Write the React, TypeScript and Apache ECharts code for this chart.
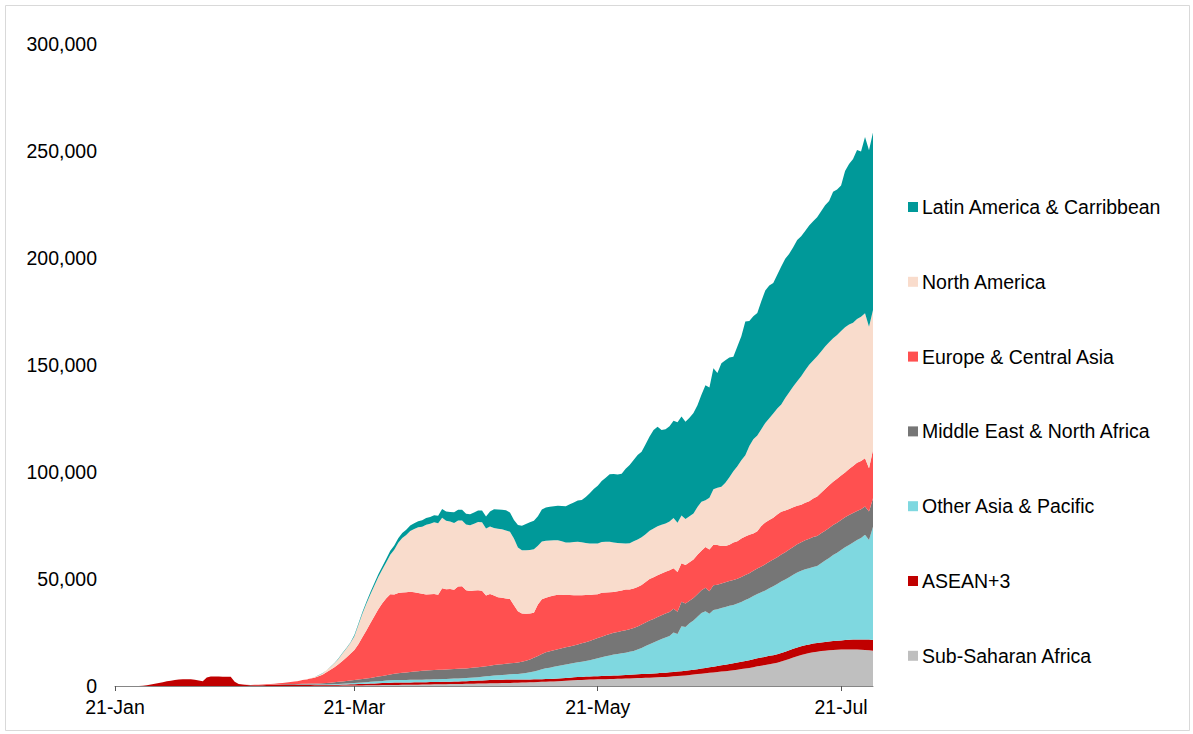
import { useEffect, useRef } from 'react';
import * as echarts from 'echarts';

const MONTHS = ['Jan', 'Feb', 'Mar', 'Apr', 'May', 'Jun', 'Jul', 'Aug', 'Sep', 'Oct', 'Nov', 'Dec'];
const START_DAY = Date.UTC(2020, 0, 21);
const DAY_COUNT = 191;
const dates: string[] = [];
for (let i = 0; i < DAY_COUNT; i++) {
  const dt = new Date(START_DAY + i * 86400000);
  dates.push(`${dt.getUTCDate()}-${MONTHS[dt.getUTCMonth()]}`);
}

const xTickLabels = ['21-Jan', '21-Mar', '21-May', '21-Jul'];
const yMax = 300000;
const yStep = 50000;

const subSaharanAfrica = [
  0, 0, 0, 0, 0, 0, 0, 0, 0, 0,
  0, 0, 0, 0, 0, 0, 0, 0, 0, 0,
  0, 0, 0, 0, 0, 0, 0, 0, 0, 0,
  0, 0, 0, 0, 0, 0, 0, 0, 0, 0,
  0, 0, 0, 10, 10, 20, 20, 30, 40, 50,
  60, 70, 80, 100, 120, 140, 160, 180, 200, 220,
  240, 260, 280, 300, 330, 360, 390, 420, 450, 480,
  500, 520, 540, 560, 580, 610, 640, 670, 700, 740,
  780, 800, 830, 860, 890, 920, 950, 980, 1010, 1050,
  1100, 1130, 1160, 1200, 1240, 1280, 1320, 1360, 1400, 1450,
  1500, 1560, 1620, 1680, 1740, 1800, 1870, 1940, 2000, 2080,
  2150, 2250, 2350, 2450, 2550, 2650, 2750, 2850, 2950, 3000,
  3050, 3100, 3150, 3200, 3250, 3300, 3350, 3400, 3450, 3550,
  3650, 3700, 3750, 3800, 3850, 3950, 4050, 4150, 4250, 4350,
  4500, 4650, 4800, 4950, 5150, 5350, 5550, 5750, 5950, 6150,
  6350, 6550, 6750, 6950, 7150, 7400, 7650, 7900, 8150, 8400,
  8800, 9200, 9500, 9800, 10200, 10500, 10900, 11400, 12000, 12600,
  13300, 13900, 14500, 15000, 15400, 15800, 16000, 16300, 16500, 16700,
  16800, 16900, 17000, 17100, 17100, 17100, 17000, 16900, 16800, 16700, 16500,
];

const asean3 = [
  0, 0, 0, 0, 0, 0, 0, 100, 400, 700,
  1000, 1400, 1800, 2200, 2500, 2800, 3000, 3100, 3100, 3100,
  2900, 2600, 2200, 4000, 4400, 4400, 4400, 4300, 4300, 4300,
  2000, 900, 700, 500, 400, 350, 350, 400, 450, 500,
  550, 600, 650, 650, 650, 650, 600, 600, 550, 550,
  500, 450, 400, 400, 400, 450, 450, 500, 500, 550,
  600, 650, 700, 750, 800, 850, 900, 950, 1000, 1050,
  1100, 1100, 1100, 1100, 1100, 1100, 1100, 1100, 1100, 1100,
  1100, 1100, 1100, 1100, 1150, 1150, 1200, 1200, 1250, 1300,
  1350, 1400, 1450, 1500, 1550, 1600, 1600, 1600, 1600, 1600,
  1550, 1500, 1450, 1400, 1350, 1300, 1300, 1250, 1250, 1200,
  1200, 1200, 1250, 1300, 1350, 1400, 1400, 1400, 1450, 1450,
  1500, 1500, 1500, 1550, 1550, 1600, 1600, 1650, 1700, 1700,
  1750, 1800, 1850, 1850, 1900, 1900, 1950, 2000, 2000, 2050,
  2050, 2100, 2100, 2150, 2200, 2250, 2300, 2400, 2500, 2600,
  2700, 2800, 2900, 3000, 3100, 3200, 3300, 3400, 3500, 3600,
  3700, 3750, 3800, 3850, 3900, 3900, 3950, 4000, 4000, 4050,
  4100, 4100, 4100, 4100, 4050, 4050, 4050, 4050, 4100, 4100,
  4200, 4200, 4300, 4400, 4500, 4600, 4700, 4800, 4900, 5000, 5000,
];

const otherAsiaPacific = [
  0, 0, 0, 0, 0, 0, 0, 0, 0, 0,
  0, 0, 0, 0, 0, 0, 0, 0, 0, 0,
  0, 0, 0, 0, 0, 0, 0, 0, 0, 0,
  0, 0, 0, 0, 0, 0, 0, 0, 0, 0,
  10, 10, 20, 20, 30, 40, 50, 60, 80, 100,
  120, 150, 180, 210, 250, 290, 330, 380, 430, 480,
  540, 600, 670, 740, 810, 880, 950, 1020, 1090, 1150,
  1200, 1200, 1200, 1200, 1200, 1200, 1200, 1200, 1250, 1250,
  1250, 1300, 1300, 1350, 1350, 1400, 1400, 1450, 1450, 1500,
  1550, 1600, 1700, 1800, 1900, 2000, 2100, 2200, 2300, 2400,
  2500, 2600, 2800, 3000, 3300, 3700, 4100, 4600, 5000, 5300,
  5600, 5900, 6100, 6300, 6500, 6700, 6900, 7100, 7300, 7600,
  8000, 8400, 8800, 9200, 9500, 9800, 10000, 10200, 10400, 10700,
  11000, 11500, 12200, 13000, 13800, 14500, 15200, 15800, 16400, 17000,
  18500, 17500, 21000, 20500, 22000, 23000, 24500, 26000, 26500, 25000,
  26500, 26500, 26800, 27000, 27200, 27300, 27600, 28000, 28500, 29000,
  29500, 30000, 30500, 31000, 31600, 32200, 32800, 33400, 33800, 34200,
  34600, 35000, 35200, 35400, 35600, 35800, 36000, 37000, 38000, 39000,
  40200, 41200, 42300, 43300, 44300, 45300, 46500, 47500, 49000, 46500, 52900,
];

const middleEastNorthAfrica = [
  0, 0, 0, 0, 0, 0, 0, 0, 0, 0,
  0, 0, 0, 0, 0, 0, 0, 0, 0, 0,
  0, 0, 0, 0, 0, 0, 0, 0, 0, 0,
  0, 0, 0, 10, 20, 30, 40, 50, 60, 80,
  100, 130, 160, 200, 240, 280, 320, 360, 400, 450,
  500, 550, 600, 700, 800, 900, 1000, 1100, 1200, 1300,
  1400, 1500, 1600, 1700, 1850, 2000, 2150, 2300, 2500, 2700,
  2900, 3100, 3300, 3500, 3700, 3900, 4000, 4100, 4200, 4300,
  4400, 4400, 4400, 4400, 4450, 4450, 4500, 4500, 4500, 4550,
  4600, 4650, 4700, 4750, 4800, 4900, 5000, 5050, 5100, 5150,
  5200, 5300, 5500, 5700, 6000, 6400, 6800, 7200, 7500, 7700,
  7800, 7800, 7900, 8000, 8100, 8200, 8400, 8600, 8800, 9000,
  9200, 9400, 9600, 9800, 10000, 10200, 10300, 10400, 10500, 10600,
  10700, 10800, 10900, 11000, 11000, 11000, 11100, 11100, 11200, 11200,
  11000, 10500, 11500, 11000, 10500, 10500, 10500, 10600, 11000, 10500,
  11500, 11500, 11500, 11500, 11600, 11600, 11600, 11600, 11700, 11700,
  11800, 11900, 12000, 12200, 12400, 12500, 12500, 12600, 12700, 12900,
  13000, 13200, 13400, 13600, 13800, 14000, 14000, 14000, 14000, 14000,
  14000, 14000, 14000, 14000, 14000, 13800, 13600, 13400, 13200, 13300, 13300,
];

const europeCentralAsia = [
  0, 0, 0, 0, 0, 0, 0, 0, 0, 0,
  0, 0, 0, 0, 0, 0, 0, 0, 0, 0,
  0, 0, 0, 0, 0, 0, 0, 0, 0, 0,
  0, 0, 20, 50, 100, 150, 200, 250, 300, 350,
  400, 500, 600, 700, 900, 1100, 1400, 1700, 2000, 2300,
  2700, 3300, 4000, 5000, 6000, 7000, 8200, 9500, 11000, 12500,
  14000, 16500, 19500, 22500, 25500, 28500, 31500, 34000, 36000, 37500,
  37000, 37500, 37500, 37500, 37500, 37000, 36500, 36000, 35500, 35500,
  35500, 35000, 38000, 37500, 37500, 37000, 38500, 38500, 36500, 36000,
  36000, 36000, 35500, 33000, 33500, 32500, 31500, 31000, 30500, 30000,
  27000, 24000, 22500, 22000, 21500, 21000, 24000, 25500, 25500, 25500,
  25500, 25500, 25000, 24500, 24000, 23500, 23000, 22500, 22000, 21500,
  21000, 20500, 20500, 20000, 19500, 19000, 19000, 19000, 19000, 18500,
  18500, 18500, 18500, 19000, 19500, 19500, 19500, 19500, 19500, 19500,
  19000, 18500, 18000, 18000, 18000, 18000, 18500, 18500, 19000, 19500,
  19000, 18500, 17500, 17000, 17000, 17500, 17500, 18000, 18000, 18000,
  17500, 17500, 19000, 19500, 19500, 19500, 20000, 20000, 19500, 19000,
  18500, 18000, 17500, 17500, 17500, 18000, 18500, 19000, 19500, 20000,
  20300, 20500, 20800, 21000, 21500, 22000, 22500, 22500, 22500, 20200, 22600,
];

const northAmerica = [
  0, 0, 0, 0, 0, 0, 0, 0, 0, 0,
  0, 0, 0, 0, 0, 0, 0, 0, 0, 0,
  0, 0, 0, 0, 0, 0, 0, 0, 0, 0,
  0, 0, 0, 0, 0, 0, 0, 0, 0, 0,
  10, 10, 20, 30, 40, 50, 60, 80, 100, 130,
  300, 400, 600, 900, 1300, 1800, 2500, 3500, 4200, 5000,
  6500, 9000, 11000, 12500, 13500, 14300, 15000, 15800, 16800, 18500,
  21000, 23500, 25500, 26700, 28300, 29500, 30700, 31400, 32600, 32900,
  33500, 33500, 33000, 32000, 31500, 31300, 30800, 30700, 30700, 30700,
  31200, 31800, 32000, 31400, 31500, 31600, 32000, 32000, 31800, 31500,
  31200, 29800, 29600, 29600, 29700, 29700, 27500, 27000, 26600, 26200,
  25800, 25400, 25000, 24500, 24600, 24800, 25000, 24700, 24300, 24000,
  23800, 23700, 23700, 23600, 23600, 23200, 22600, 22000, 21500, 21700,
  22000, 22200, 22300, 22300, 22500, 22800, 22900, 22800, 22600, 22800,
  23400, 23000, 22300, 21400, 21500, 21500, 22300, 22800, 21800, 24200,
  25900, 26800, 27600, 29500, 31500, 33300, 35000, 36600, 38000, 41500,
  44000, 44700, 45200, 46500, 47500, 48700, 49500, 50100, 52600, 54500,
  56500, 58200, 60000, 62000, 63800, 64500, 65500, 66000, 66500, 66800,
  67000, 67200, 67500, 67800, 67500, 67000, 67200, 67500, 67800, 66200, 65400,
];

const latinAmericaCaribbean = [
  0, 0, 0, 0, 0, 0, 0, 0, 0, 0,
  0, 0, 0, 0, 0, 0, 0, 0, 0, 0,
  0, 0, 0, 0, 0, 0, 0, 0, 0, 0,
  0, 0, 0, 0, 0, 0, 0, 0, 0, 0,
  0, 0, 0, 0, 0, 10, 10, 20, 20, 30,
  40, 50, 70, 90, 110, 140, 170, 210, 260, 320,
  500, 600, 700, 800, 1000, 1100, 1300, 1400, 1600, 1800,
  2000, 2100, 2300, 2400, 2600, 2700, 2900, 3000, 3100, 3200,
  3300, 3500, 4100, 4300, 4500, 5000, 5000, 5000, 5100, 5200,
  5300, 5400, 5500, 5600, 7000, 8700, 9000, 9200, 9400, 9000,
  8600, 10500, 11400, 12300, 12900, 13300, 13700, 15000, 15600, 15800,
  16000, 16200, 16500, 17000, 17800, 18500, 19200, 19800, 21500, 23500,
  25500, 27000, 28500, 30000, 31500, 32000, 32000, 32500, 35000, 36500,
  38000, 39500, 40000, 42000, 44000, 46000, 46500, 44300, 44000, 44500,
  45500, 47000, 46200, 45500, 46000, 47000, 47500, 50000, 53800, 51500,
  56500, 53600, 57800, 57300, 56000, 53500, 56000, 57900, 62500, 58400,
  57500, 57300, 59800, 62000, 62000, 61000, 62500, 64500, 65000, 64700,
  65000, 66000, 65500, 65000, 65000, 65000, 65000, 65500, 66000, 66000,
  68500, 68000, 68000, 73000, 75000, 76500, 79000, 77200, 82400, 82500, 83000,
];

// bottom of the stack first
const seriesNames = [
  'Sub-Saharan Africa',
  'ASEAN+3',
  'Other Asia & Pacific',
  'Middle East & North Africa',
  'Europe & Central Asia',
  'North America',
  'Latin America & Carribbean',
];
const seriesValues = [
  subSaharanAfrica,
  asean3,
  otherAsiaPacific,
  middleEastNorthAfrica,
  europeCentralAsia,
  northAmerica,
  latinAmericaCaribbean,
];
const seriesColors = ['#bfbfbf', '#c00000', '#7fd8e0', '#767676', '#ff5050', '#f9dccc', '#009999'];

const FONT = '"Liberation Sans", Arial, Helvetica, sans-serif';
const FONT_SIZE = 19.5;

export default function App() {
  const ref = useRef<HTMLDivElement>(null);

  useEffect(() => {
    if (!ref.current) return;
    const chart = echarts.init(ref.current, undefined, { renderer: 'svg' });
    const isTick = (_i: number, v: string) => xTickLabels.includes(v);
    chart.setOption({
      animation: false,
      backgroundColor: '#ffffff',
      textStyle: { fontFamily: FONT },
      grid: { left: 115, right: 320, top: 44, bottom: 48, containLabel: false },
      legend: {
        orient: 'vertical',
        left: 908,
        top: 197,
        padding: 0,
        icon: 'rect',
        itemWidth: 10,
        itemHeight: 10,
        itemGap: 54.8,
        data: [...seriesNames].reverse(),
        textStyle: { fontSize: FONT_SIZE, color: '#000', fontFamily: FONT, padding: [0, 0, 0, -1] },
        selectedMode: false,
      },
      xAxis: {
        type: 'category',
        data: dates,
        boundaryGap: false,
        axisLine: { show: true, lineStyle: { color: '#868686', width: 1 } },
        axisTick: { show: true, interval: isTick, length: 5, lineStyle: { color: '#555' } },
        axisLabel: {
          interval: isTick,
          fontSize: FONT_SIZE,
          color: '#000',
          fontFamily: FONT,
          margin: 11,
        },
        splitLine: { show: false },
      },
      yAxis: {
        type: 'value',
        min: 0,
        max: yMax,
        interval: yStep,
        axisLine: { show: false },
        axisTick: { show: false },
        splitLine: { show: false },
        axisLabel: {
          fontSize: FONT_SIZE,
          color: '#000',
          fontFamily: FONT,
          margin: 18,
          formatter: (v: number) => v.toLocaleString('en-US'),
        },
      },
      graphic: [
        {
          type: 'rect',
          shape: { x: 5.5, y: 5.5, width: 1184, height: 725 },
          style: { fill: 'none', stroke: '#d9d9d9', lineWidth: 1 },
          silent: true,
        },
      ],
      series: seriesNames.map((name, i) => ({
        name,
        type: 'line',
        stack: 'total',
        data: seriesValues[i],
        symbol: 'none',
        showSymbol: false,
        lineStyle: { width: 0, color: seriesColors[i] },
        itemStyle: { color: seriesColors[i] },
        areaStyle: { color: seriesColors[i], opacity: 1 },
        emphasis: { disabled: true },
      })),
    });
    return () => chart.dispose();
  }, []);

  return (
    <div
      ref={ref}
      style={{ position: 'absolute', left: 0, top: 0, width: 1193, height: 734 }}
    />
  );
}
